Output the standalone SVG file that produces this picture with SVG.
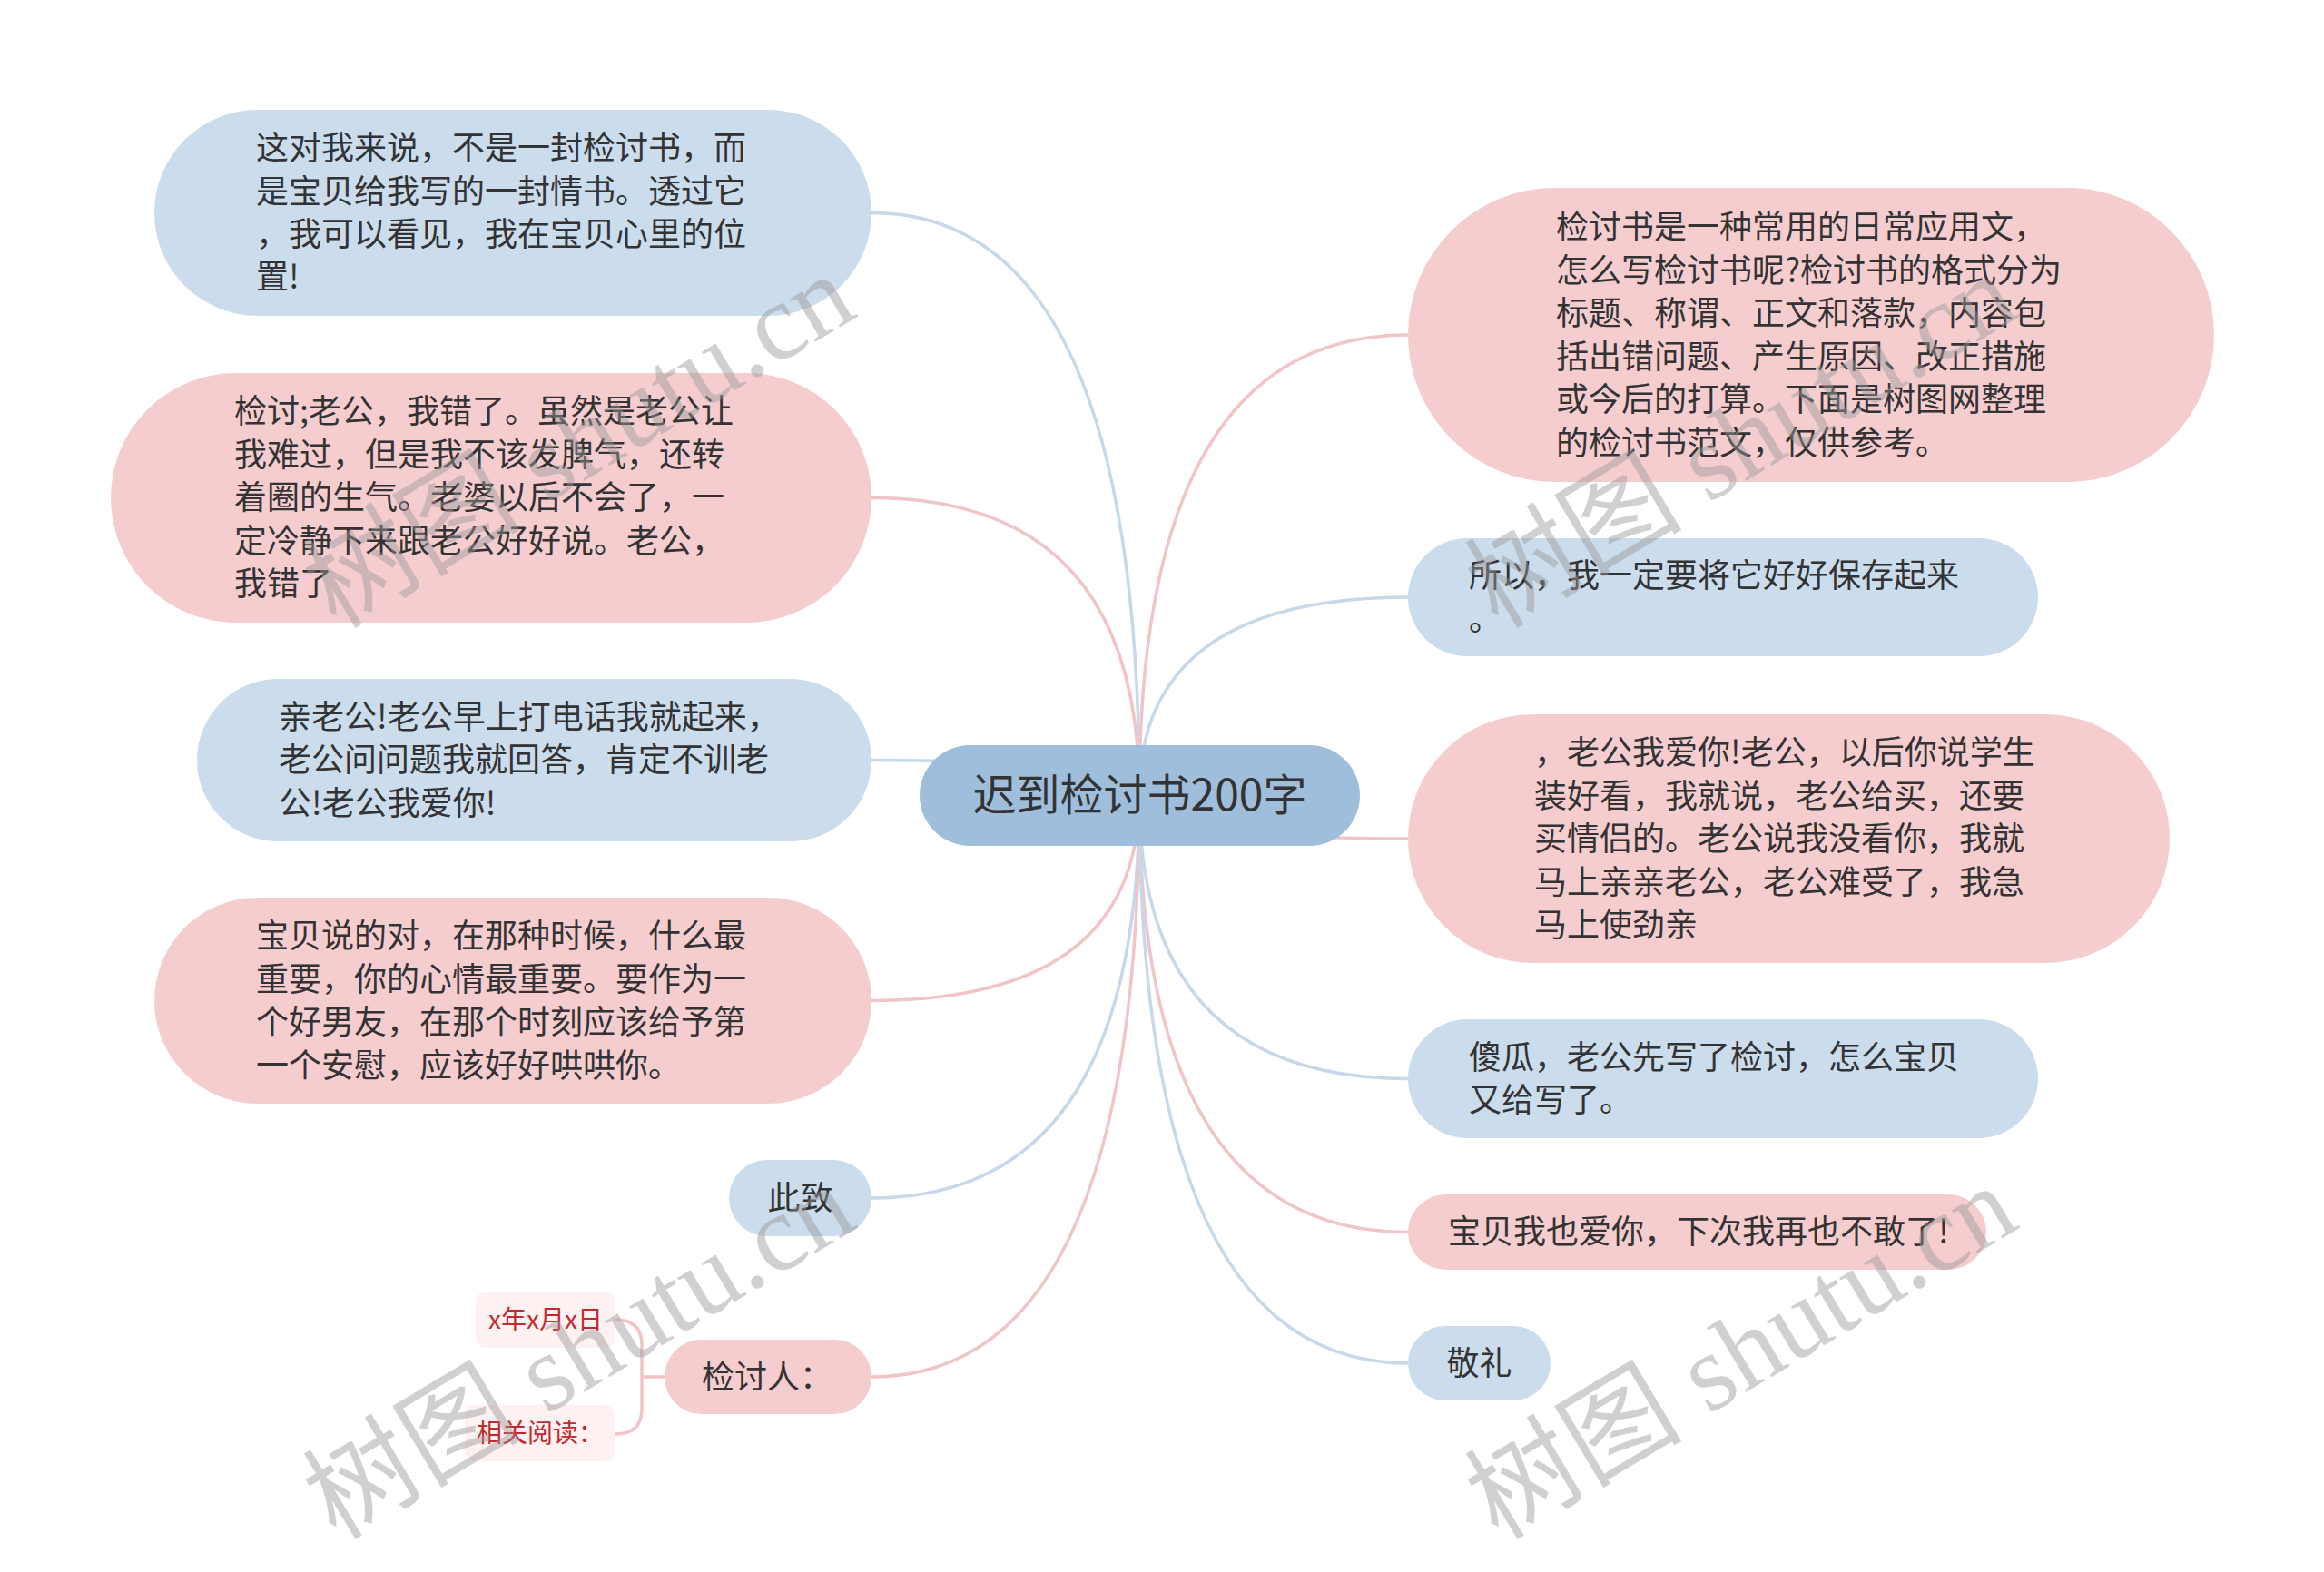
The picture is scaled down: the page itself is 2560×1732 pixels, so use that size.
<svg xmlns="http://www.w3.org/2000/svg" width="2560" height="1732" viewBox="0 0 2560 1732">
<style>
.t{font-family:"Noto Sans CJK SC","Noto Sans",sans-serif;font-size:36px;fill:#333333}
.tc{font-family:"Noto Sans CJK SC","Noto Sans",sans-serif;font-size:48px;fill:#333333}
.ts{font-family:"Noto Sans CJK SC","Noto Sans",sans-serif;font-size:28px;fill:#c3282e}
.blue{fill:#cbdcec}
.pink{fill:#f5cdcf}
.sub{fill:#fdf1f1}
.lb{fill:none;stroke:#c6d8ea;stroke-width:3.5}
.lp{fill:none;stroke:#f1c4c7;stroke-width:3.5}
.wm{font-family:"Liberation Serif","Noto Sans CJK SC",serif;font-size:120px;fill:#999999;opacity:0.45}
</style>
<rect width="2560" height="1732" fill="#ffffff"/>
<g id="connectors">
<path class="lb" d="M1255 876 Q1255 234.5 960 234.5"/>
<path class="lp" d="M1255 876 Q1255 548.5 960 548.5"/>
<path class="lb" d="M1255 876 Q1255 837.5 960 837.5"/>
<path class="lp" d="M1255 876 Q1255 1102.5 960 1102.5"/>
<path class="lb" d="M1255 876 Q1255 1320 960 1320"/>
<path class="lp" d="M1255 876 Q1255 1517 960 1517"/>
<path class="lp" d="M1255 876 Q1255 369 1551 369"/>
<path class="lb" d="M1255 876 Q1255 658 1551 658"/>
<path class="lp" d="M1255 876 Q1255 924 1551 924"/>
<path class="lb" d="M1255 876 Q1255 1188.5 1551 1188.5"/>
<path class="lp" d="M1255 876 Q1255 1357.5 1551 1357.5"/>
<path class="lb" d="M1255 876 Q1255 1502 1551 1502"/>
<path class="lp" d="M732 1517 L707 1517"/>
<path class="lp" d="M678 1454 Q707 1454 707 1482 L707 1552 Q707 1580 678 1580"/>
</g>
<g id="center">
<rect x="1013" y="821" width="485" height="111" rx="55.5" fill="#9fbedb"/>
<text class="tc" x="1255.5" y="893" text-anchor="middle">迟到检讨书200字</text>
</g>
<g id="nodeA">
<rect class="blue" x="170" y="121" width="790" height="227" rx="113.5"/>
<text class="t" x="282" y="176">这对我来说，不是一封检讨书，而</text>
<text class="t" x="282" y="224">是宝贝给我写的一封情书。透过它</text>
<text class="t" x="282" y="271">，我可以看见，我在宝贝心里的位</text>
<text class="t" x="282" y="318">置!</text>
</g>
<g id="nodeB">
<rect class="pink" x="122" y="411" width="838" height="275" rx="137.5"/>
<text class="t" x="258" y="466">检讨;老公，我错了。虽然是老公让</text>
<text class="t" x="258" y="514">我难过，但是我不该发脾气，还转</text>
<text class="t" x="258" y="561">着圈的生气。老婆以后不会了，一</text>
<text class="t" x="258" y="609">定冷静下来跟老公好好说。老公，</text>
<text class="t" x="258" y="656">我错了</text>
</g>
<g id="nodeC">
<rect class="blue" x="217" y="748" width="743" height="179" rx="89.5"/>
<text class="t" x="307" y="803">亲老公!老公早上打电话我就起来，</text>
<text class="t" x="307" y="850">老公问问题我就回答，肯定不训老</text>
<text class="t" x="307" y="898">公!老公我爱你!</text>
</g>
<g id="nodeD">
<rect class="pink" x="170" y="989" width="790" height="227" rx="113.5"/>
<text class="t" x="282" y="1044">宝贝说的对，在那种时候，什么最</text>
<text class="t" x="282" y="1092">重要，你的心情最重要。要作为一</text>
<text class="t" x="282" y="1139">个好男友，在那个时刻应该给予第</text>
<text class="t" x="282" y="1187">一个安慰，应该好好哄哄你。</text>
</g>
<g id="nodeE">
<rect class="blue" x="803" y="1278" width="157" height="84" rx="42"/>
<text class="t" x="881.5" y="1333" text-anchor="middle">此致</text>
</g>
<g id="nodeF">
<rect class="pink" x="732" y="1476" width="228" height="82" rx="41"/>
<text class="t" x="773" y="1530">检讨人：</text>
</g>
<g id="nodeF1">
<rect class="sub" x="524" y="1423" width="154" height="62" rx="12"/>
<text class="ts" x="601" y="1464" text-anchor="middle">x年x月x日</text>
</g>
<g id="nodeF2">
<rect class="sub" x="512" y="1548" width="166" height="62" rx="12"/>
<text class="ts" x="525" y="1589">相关阅读：</text>
</g>
<g id="nodeG">
<rect class="pink" x="1551" y="207" width="888" height="324" rx="162"/>
<text class="t" x="1714" y="263">检讨书是一种常用的日常应用文，</text>
<text class="t" x="1714" y="311">怎么写检讨书呢?检讨书的格式分为</text>
<text class="t" x="1714" y="358">标题、称谓、正文和落款，内容包</text>
<text class="t" x="1714" y="406">括出错问题、产生原因、改正措施</text>
<text class="t" x="1714" y="453">或今后的打算。下面是树图网整理</text>
<text class="t" x="1714" y="501">的检讨书范文，仅供参考。</text>
</g>
<g id="nodeH">
<rect class="blue" x="1551" y="593" width="694" height="130" rx="65"/>
<text class="t" x="1618" y="647">所以，我一定要将它好好保存起来</text>
<text class="t" x="1618" y="695">。</text>
</g>
<g id="nodeI">
<rect class="pink" x="1551" y="787" width="839" height="274" rx="137"/>
<text class="t" x="1690" y="842">，老公我爱你!老公，以后你说学生</text>
<text class="t" x="1690" y="890">装好看，我就说，老公给买，还要</text>
<text class="t" x="1690" y="937">买情侣的。老公说我没看你，我就</text>
<text class="t" x="1690" y="985">马上亲亲老公，老公难受了，我急</text>
<text class="t" x="1690" y="1032">马上使劲亲</text>
</g>
<g id="nodeJ">
<rect class="blue" x="1551" y="1123" width="694" height="131" rx="65.5"/>
<text class="t" x="1618" y="1178">傻瓜，老公先写了检讨，怎么宝贝</text>
<text class="t" x="1618" y="1225">又给写了。</text>
</g>
<g id="nodeK">
<rect class="pink" x="1551" y="1316" width="637" height="83" rx="41.5"/>
<text class="t" x="1595" y="1370">宝贝我也爱你，下次我再也不敢了!</text>
</g>
<g id="nodeL">
<rect class="blue" x="1551" y="1461" width="157" height="82" rx="41"/>
<text class="t" x="1629.5" y="1515" text-anchor="middle">敬礼</text>
</g>
<g id="watermarks">
<text class="wm" transform="translate(370,694) rotate(-31)">树图 shutu.cn</text>
<text class="wm" transform="translate(1650,694) rotate(-31)">树图 shutu.cn</text>
<text class="wm" transform="translate(370,1698) rotate(-31)">树图 shutu.cn</text>
<text class="wm" transform="translate(1650,1698) rotate(-31)">树图 shutu.cn</text>
</g>
</svg>
